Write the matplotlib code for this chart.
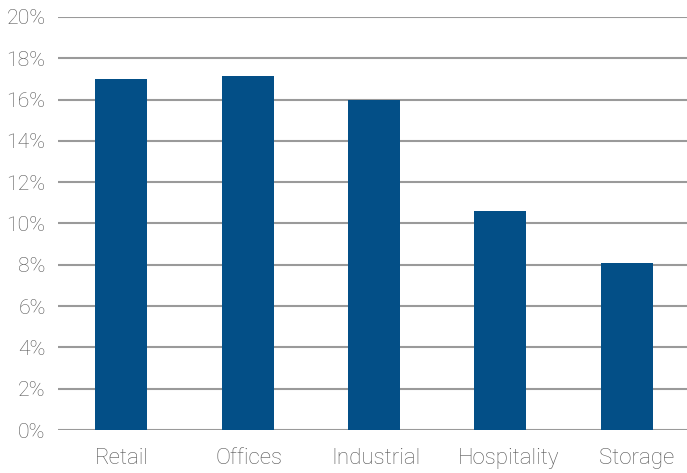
import matplotlib.pyplot as plt
import matplotlib.transforms as mtransforms
from matplotlib.ticker import FuncFormatter

categories = ['Retail', 'Offices', 'Industrial', 'Hospitality', 'Storage']
values = [17.0, 17.15, 16.0, 10.6, 8.1]
yticks = [0, 2, 4, 6, 8, 10, 12, 14, 16, 18, 20]

plt.rcParams['font.family'] = ['Roboto', 'DejaVu Sans']

fig = plt.figure(figsize=(6.87, 4.73), dpi=100)
ax = fig.add_axes([58 / 687, 43 / 473, 632 / 687, 413 / 473])

ax.set_axisbelow(True)
ax.grid(axis='y', color='#9a9a9a', linewidth=1.5)
ax.bar(range(len(categories)), values, width=0.41, color='#034f87', zorder=2)

ax.set_xlim(-0.5, 4.5)
ax.set_ylim(0, 20)
ax.set_yticks(yticks)
ax.yaxis.set_major_formatter(FuncFormatter(lambda v, p: '%d%%' % v))
ax.set_xticks(range(len(categories)))
ax.set_xticklabels(categories)

for s in ax.spines.values():
    s.set_visible(False)
ax.tick_params(length=0, colors='#555555')
ax.tick_params(axis='y', pad=9, labelsize=15.3)
ax.tick_params(axis='x', pad=13, labelsize=16)
for lab in ax.get_xticklabels() + ax.get_yticklabels():
    lab.set_fontweight('light')

# the original's labels drift a little to the right
shifts = [1, 1, 2, 8, 10]
for lab, dx in zip(ax.get_xticklabels(), shifts):
    lab.set_transform(lab.get_transform() +
                      mtransforms.ScaledTranslation(dx / 100, 0, fig.dpi_scale_trans))

fig.savefig('out.png', dpi=100)
